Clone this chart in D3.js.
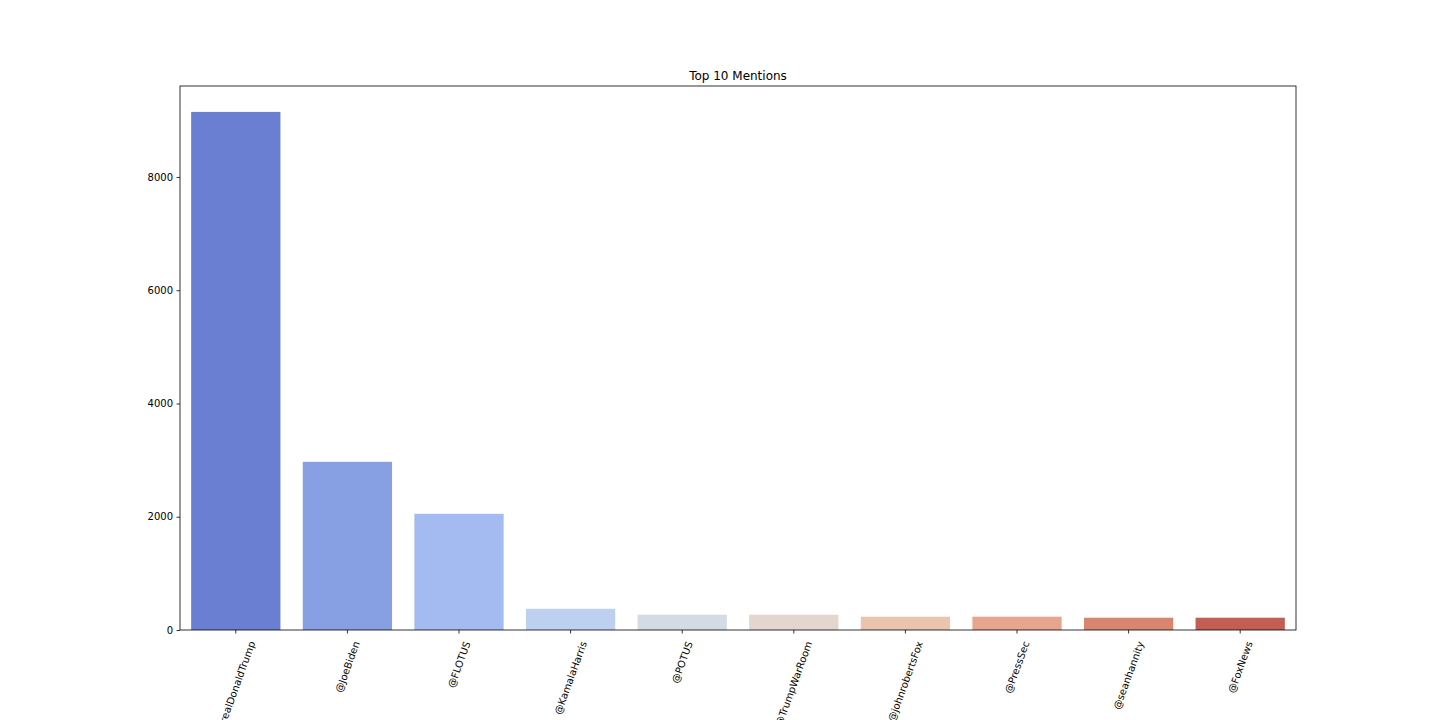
<!DOCTYPE html>
<html>
<head>
<meta charset="utf-8">
<script src="https://cdn.jsdelivr.net/npm/d3@7/dist/d3.min.js"></script>
<style>
  html, body { margin: 0; padding: 0; background: #fff; }
  svg text { font-family: "DejaVu Sans", sans-serif; fill: #000; }
</style>
</head>
<body>
<svg id="chart"></svg>
<script>
const handles = ['@realDonaldTrump', '@JoeBiden', '@FLOTUS', '@KamalaHarris', '@POTUS',
  '@TrumpWarRoom', '@johnrobertsFox', '@PressSec', '@seanhannity', '@FoxNews'];
const mentionCounts = [9149, 2970, 2052, 375, 270, 270, 235, 235, 217, 217];
const barColors = ['#6a7fd1', '#87a0e3', '#a3bbf1', '#bed0f0', '#d5dbe5',
  '#e2d6cf', '#ebc4b0', '#e6a68e', '#d88670', '#c35e54'];
const yTicks = [0, 2000, 4000, 6000, 8000];
const chartTitle = 'Top 10 Mentions';

const config = {
  width: 1440, height: 720,
  margin: { top: 86, right: 144, bottom: 90, left: 180 }
};

const innerW = config.width - config.margin.left - config.margin.right;
const innerH = config.height - config.margin.top - config.margin.bottom;

const svg = d3.select('#chart')
  .attr('width', config.width)
  .attr('height', config.height);

const chart = svg.append('g')
  .attr('transform', `translate(${config.margin.left},${config.margin.top})`);

const xScale = d3.scaleBand().domain(handles).range([0, innerW]).paddingInner(0.2).paddingOuter(0.1);
// matplotlib-style 5% headroom
const yScale = d3.scaleLinear().domain([0, d3.max(mentionCounts) * 1.05]).range([innerH, 0]);

chart.selectAll('.bar')
  .data(handles)
  .join('rect')
  .attr('class', 'bar')
  .attr('x', d => xScale(d))
  .attr('width', xScale.bandwidth())
  .attr('y', (d, i) => yScale(mentionCounts[i]))
  .attr('height', (d, i) => innerH - yScale(mentionCounts[i]))
  .attr('fill', (d, i) => barColors[i]);

// frame
chart.append('rect')
  .attr('width', innerW).attr('height', innerH)
  .attr('fill', 'none').attr('stroke', '#000').attr('stroke-width', 0.8);

// y axis
const yAxis = d3.axisLeft(yScale).tickValues(yTicks).tickSize(3.5).tickPadding(3.5).tickFormat(d3.format('d'));
const yAxisG = chart.append('g').call(yAxis);
yAxisG.select('.domain').remove();
yAxisG.selectAll('line').attr('stroke', '#000').attr('stroke-width', 0.8);
yAxisG.selectAll('text').attr('font-size', 10).attr('font-family', 'DejaVu Sans');

// x axis ticks
const xAxis = d3.axisBottom(xScale).tickSize(3.5).tickFormat('');
const xAxisG = chart.append('g').attr('transform', `translate(0,${innerH})`).call(xAxis);
xAxisG.select('.domain').remove();
xAxisG.selectAll('line').attr('stroke', '#000').attr('stroke-width', 0.8);

// rotated labels, bbox centred under tick (matplotlib rotation=70)
const rot = 70 * Math.PI / 180;
const labelTop = innerH + 3.5 + 3.5 + 3;
chart.selectAll('.xlabel')
  .data(handles)
  .join('text')
  .attr('class', 'xlabel')
  .attr('font-size', 10)
  .attr('text-anchor', 'middle')
  .attr('dominant-baseline', 'central')
  .text(d => d)
  .each(function (d) {
    const L = this.getComputedTextLength();
    const h = 10;
    const bboxH = L * Math.sin(rot) + h * Math.cos(rot);
    const cx = xScale(d) + xScale.bandwidth() / 2;
    const cy = labelTop + bboxH / 2;
    d3.select(this).attr('transform', `translate(${cx},${cy}) rotate(-70)`);
  });

// title
chart.append('text')
  .attr('x', innerW / 2)
  .attr('y', -6)
  .attr('text-anchor', 'middle')
  .attr('font-size', 12)
  .text(chartTitle);
</script>
</body>
</html>
